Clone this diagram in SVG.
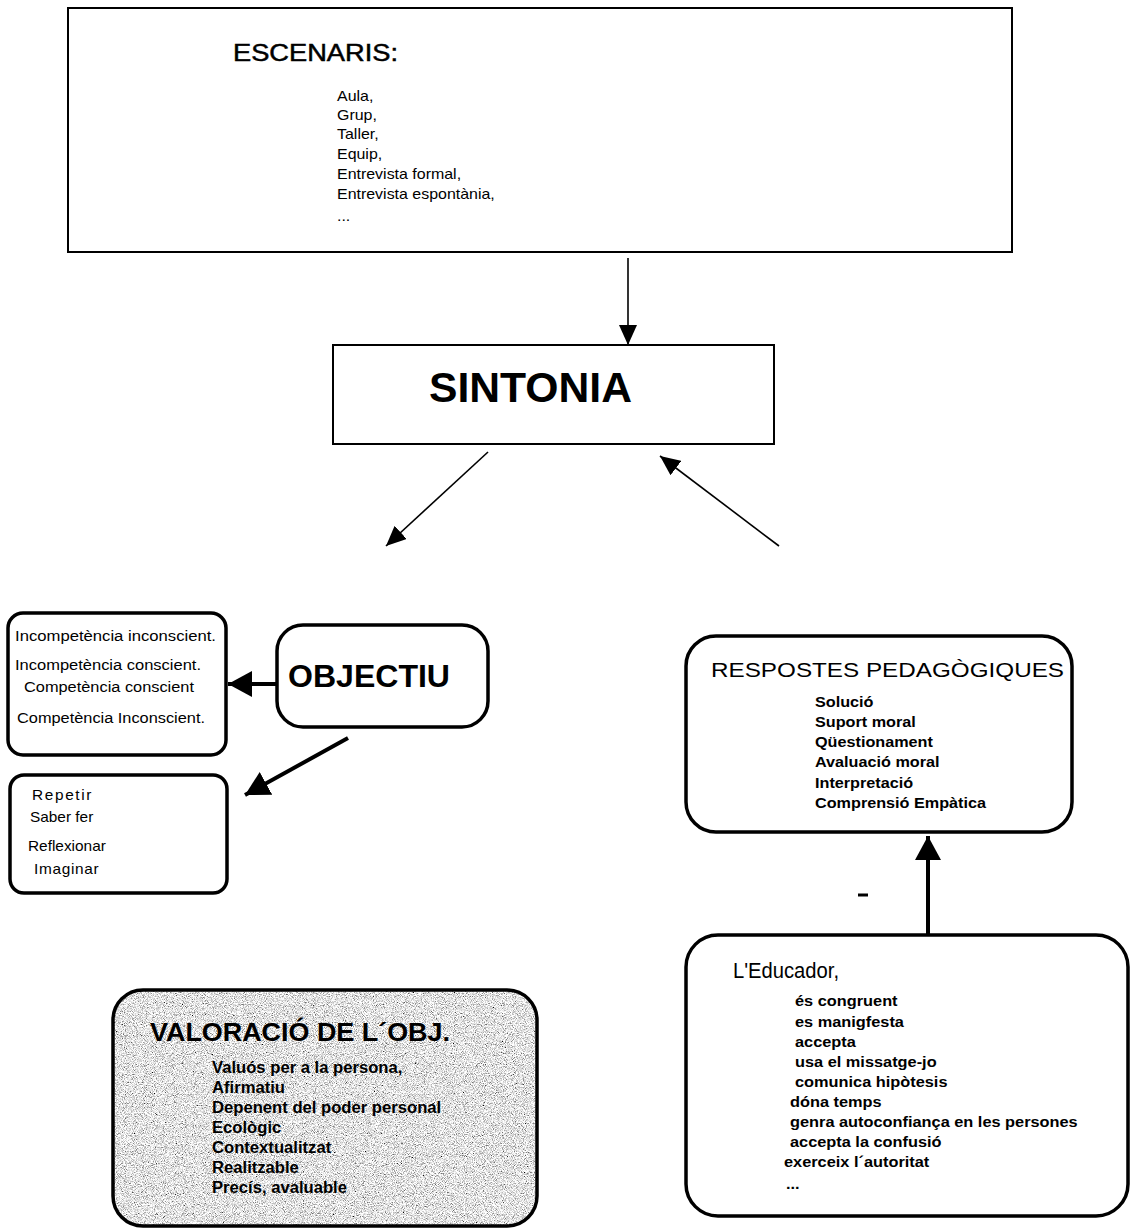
<svg xmlns="http://www.w3.org/2000/svg" width="1132" height="1230" viewBox="0 0 1132 1230">
  <style>
    .box { fill: #fff; stroke: #000; stroke-width: 2; }
    .rbox { fill: #fff; stroke: #000; stroke-width: 3.5; }
    .t { font-family: "Liberation Sans", Arial, sans-serif; fill: #000; }
    .b { font-weight: bold; }
    .thin { stroke: #000; stroke-width: 1.6; fill: none; }
    .thick { stroke: #000; stroke-width: 4; fill: none; }
  </style>
  <defs>
    <marker id="head" markerUnits="userSpaceOnUse" markerWidth="20" markerHeight="18" refX="20" refY="9" orient="auto">
      <path d="M0,0 L20,9 L0,18 z" fill="#000"/>
    </marker>
    <marker id="headBig" markerUnits="userSpaceOnUse" markerWidth="24" markerHeight="26" refX="24" refY="13" orient="auto">
      <path d="M0,0 L24,13 L0,26 z" fill="#000"/>
    </marker>
    <filter id="grain" x="0" y="0" width="100%" height="100%">
      <feTurbulence type="fractalNoise" baseFrequency="1.1" numOctaves="2" seed="7" result="n"/>
      <feColorMatrix in="n" type="matrix" values="2.2 0 0 0 -0.33  2.2 0 0 0 -0.33  2.2 0 0 0 -0.33  0 0 0 0 1" result="g"/>
      <feComposite in="g" in2="SourceAlpha" operator="in"/>
    </filter>
  </defs>

  <!-- connectors -->
  <g id="connectors">
    <line class="thin" x1="628" y1="258" x2="628" y2="345" marker-end="url(#head)"/>
    <line class="thin" x1="488" y1="452" x2="386" y2="546" marker-end="url(#head)"/>
    <line class="thin" x1="779" y1="546" x2="660" y2="456" marker-end="url(#head)"/>
    <line class="thick" x1="277" y1="684" x2="228" y2="684" marker-end="url(#headBig)"/>
    <line class="thick" x1="348" y1="738" x2="245" y2="795" marker-end="url(#headBig)"/>
    <line class="thick" x1="928" y1="936" x2="928" y2="836" marker-end="url(#headBig)"/>
    <line x1="858" y1="895" x2="868" y2="895" stroke="#000" stroke-width="3"/>
  </g>

  <!-- scenarios -->
  <g id="escenaris">
    <rect class="box" x="68" y="8" width="944" height="244"/>
    <text class="t" x="233" y="61" font-size="24" stroke="#000" stroke-width="0.5" textLength="165" lengthAdjust="spacingAndGlyphs">ESCENARIS:</text>
    <g class="t" font-size="14" transform="translate(337 0) scale(1.14 1)">
      <text x="0" y="101">Aula,</text>
      <text x="0" y="120">Grup,</text>
      <text x="0" y="139">Taller,</text>
      <text x="0" y="159">Equip,</text>
      <text x="0" y="179">Entrevista formal,</text>
      <text x="0" y="199">Entrevista espontània,</text>
      <text x="0" y="221">...</text>
    </g>
  </g>

  <!-- tuning -->
  <g id="sintonia">
    <rect class="box" x="333" y="345" width="441" height="99"/>
    <text class="t b" x="429" y="402" font-size="42" textLength="203" lengthAdjust="spacingAndGlyphs">SINTONIA</text>
  </g>

  <!-- competence levels -->
  <g id="competencia">
    <rect class="rbox" x="8" y="613" width="218" height="142" rx="15"/>
    <g class="t" font-size="14">
      <text x="15" y="641" textLength="201" lengthAdjust="spacingAndGlyphs">Incompetència inconscient.</text>
      <text x="15" y="670" textLength="186" lengthAdjust="spacingAndGlyphs">Incompetència conscient.</text>
      <text x="24" y="692" textLength="170" lengthAdjust="spacingAndGlyphs">Competència conscient</text>
      <text x="17" y="723" textLength="188" lengthAdjust="spacingAndGlyphs">Competència Inconscient.</text>
    </g>
  </g>

  <!-- objective -->
  <g id="objectiu">
    <rect class="rbox" x="277" y="625" width="211" height="102" rx="26"/>
    <text class="t b" x="288" y="687" font-size="31" textLength="162" lengthAdjust="spacingAndGlyphs">OBJECTIU</text>
  </g>

  <!-- learning actions -->
  <g id="accions">
    <rect class="rbox" x="10" y="775" width="217" height="118" rx="14"/>
    <g class="t" font-size="14" transform="translate(28 0) scale(1.1 1)">
      <text x="3.6" y="800" letter-spacing="1.5">Repetir</text>
      <text x="1.8" y="822">Saber fer</text>
      <text x="0" y="851">Reflexionar</text>
      <text x="5.5" y="874" letter-spacing="0.6">Imaginar</text>
    </g>
  </g>

  <!-- pedagogical responses -->
  <g id="respostes">
    <rect class="rbox" x="686" y="636" width="386" height="196" rx="30"/>
    <text class="t" x="711" y="677" font-size="21" textLength="353" lengthAdjust="spacingAndGlyphs">RESPOSTES PEDAGÒGIQUES</text>
    <g class="t b" font-size="15" transform="translate(815 0) scale(1.08 1)">
      <text x="0" y="707">Solució</text>
      <text x="0" y="727">Suport moral</text>
      <text x="0" y="747">Qüestionament</text>
      <text x="0" y="767">Avaluació moral</text>
      <text x="0" y="788">Interpretació</text>
      <text x="0" y="808">Comprensió Empàtica</text>
    </g>
  </g>

  <!-- educator -->
  <g id="educador">
    <rect class="rbox" x="686" y="935" width="442" height="281" rx="32"/>
    <text class="t" x="733" y="978" font-size="22" textLength="106" lengthAdjust="spacingAndGlyphs">L'Educador,</text>
    <g class="t b" font-size="15" transform="translate(784 0) scale(1.09 1)">
      <text x="10.1" y="1006">és congruent</text>
      <text x="10.1" y="1027">es manigfesta</text>
      <text x="10.1" y="1047">accepta</text>
      <text x="10.1" y="1067">usa el missatge-jo</text>
      <text x="10.1" y="1087">comunica hipòtesis</text>
      <text x="5.5" y="1107">dóna temps</text>
      <text x="5.5" y="1127">genra autoconfiança en les persones</text>
      <text x="5.5" y="1147">accepta la confusió</text>
      <text x="0" y="1167">exerceix l´autoritat</text>
      <text x="1.8" y="1189">...</text>
    </g>
  </g>

  <!-- objective assessment -->
  <g id="valoracio">
    <rect x="113" y="990" width="424" height="236" rx="30" fill="#bbb" filter="url(#grain)"/>
    <rect x="113" y="990" width="424" height="236" rx="30" fill="none" stroke="#000" stroke-width="3.5"/>
    <text class="t b" x="150" y="1041" font-size="26" textLength="300" lengthAdjust="spacingAndGlyphs">VALORACIÓ DE L´OBJ.</text>
    <g class="t b" font-size="16" transform="translate(212 0) scale(1.04 1)">
      <text x="0" y="1073">Valuós per a la persona,</text>
      <text x="0" y="1093">Afirmatiu</text>
      <text x="0" y="1113">Depenent del poder personal</text>
      <text x="0" y="1133">Ecològic</text>
      <text x="0" y="1153">Contextualitzat</text>
      <text x="0" y="1173">Realitzable</text>
      <text x="0" y="1193">Precís, avaluable</text>
    </g>
  </g>
</svg>
